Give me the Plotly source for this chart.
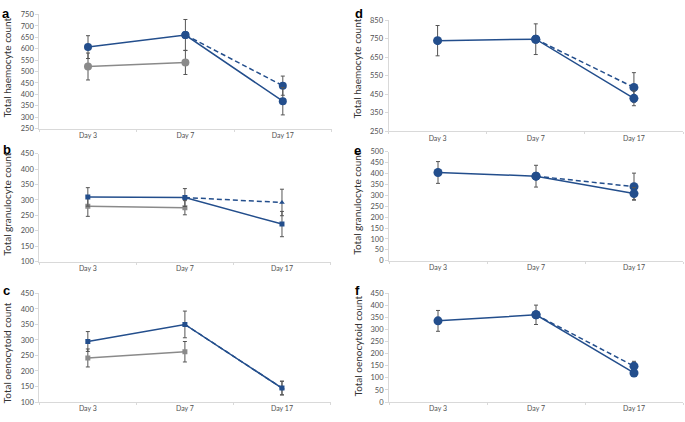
import plotly.graph_objects as go

W, H = 685, 422
days = ["Day 3", "Day 7", "Day 17"]
days_ctrl = ["Day 3", "Day 7"]
days_dash = ["Day 7", "Day 17"]

# Panel a - total haemocyte count
a_blue = [607, 660, 370]
a_blue_err = [50, 68, 60]
a_dash = [660, 438]
a_dash_err = [0, 42]
a_grey = [522, 540]
a_grey_err = [59, 53]

# Panel b - total granulocyte count
b_blue = [310, 308, 222]
b_blue_err = [30, 29, 41]
b_dash = [308, 292]
b_dash_err = [0, 43]
b_grey = [280, 275]
b_grey_err = [33, 23]

# Panel c - total oenocytoid count
c_blue = [295, 350, 145]
c_blue_err = [32, 43, 22]
c_dash = [350, 145]
c_dash_err = [0, 22]
c_grey = [242, 262]
c_grey_err = [29, 33]

# Panel d - total haemocyte count
d_blue = [740, 748, 428]
d_blue_err = [82, 83, 40]
d_dash = [748, 487]
d_dash_err = [0, 80]

# Panel e - total granulocyte count
e_blue = [405, 388, 308]
e_blue_err = [50, 50, 28]
e_dash = [388, 340]
e_dash_err = [0, 62]

# Panel f - total oenocytoid count
f_blue = [335, 360, 120]
f_blue_err = [43, 40, 12]
f_dash = [360, 148]
f_dash_err = [0, 20]

BLUE = "#234E8C"
GREY = "#8A8A8A"
ERR = "#555555"
AXC = "#D9D9D9"
TXT = "#505050"

def px_x(p):
    return p / W

def px_y(p):
    return 1 - p / H

panels = [
    dict(letter="a", title="Total haemocyte count", blue=a_blue, be=a_blue_err, dash=a_dash, de=a_dash_err,
         grey=a_grey, ge=a_grey_err, sym="circle", msize=8, dsym="circle", yr=[250, 750], t0=250, dt=50,
         xd=(39.3, 331.5), yd=(10.7, 127.3), tp=(7, 65), lp=(6, 10)),
    dict(letter="b", title="Total granulocyte count", blue=b_blue, be=b_blue_err, dash=b_dash, de=b_dash_err,
         grey=b_grey, ge=b_grey_err, sym="square", msize=5, dsym="triangle-up", yr=[100, 450], t0=100, dt=50,
         xd=(39.3, 330.5), yd=(153, 263.3), tp=(7, 205), lp=(7, 149)),
    dict(letter="c", title="Total oenocytoid count", blue=c_blue, be=c_blue_err, dash=c_dash, de=c_dash_err,
         grey=c_grey, ge=c_grey_err, sym="square", msize=5, dsym="triangle-up", yr=[100, 450], t0=100, dt=50,
         xd=(39.3, 330.5), yd=(295.7, 406.7), tp=(7, 357), lp=(6, 293)),
    dict(letter="d", title="Total haemocyte count", blue=d_blue, be=d_blue_err, dash=d_dash, de=d_dash_err,
         grey=None, ge=None, sym="circle", msize=9, dsym="circle", yr=[250, 850], t0=250, dt=100,
         xd=(388.5, 683), yd=(16.7, 130), tp=(357, 66), lp=(359, 10)),
    dict(letter="e", title="Total granulocyte count", blue=e_blue, be=e_blue_err, dash=e_dash, de=e_dash_err,
         grey=None, ge=None, sym="circle", msize=9, dsym="circle", yr=[0, 500], t0=0, dt=50,
         xd=(389, 683), yd=(151, 262.3), tp=(357, 204), lp=(357, 150)),
    dict(letter="f", title="Total oenocytoid count", blue=f_blue, be=f_blue_err, dash=f_dash, de=f_dash_err,
         grey=None, ge=None, sym="circle", msize=9, dsym="circle", yr=[0, 450], t0=0, dt=50,
         xd=(389, 683), yd=(295.3, 406.7), tp=(358, 350), lp=(357, 293)),
]

fig = go.Figure()
annotations = []
layout = {}

for i, p in enumerate(panels, start=1):
    sx = "" if i == 1 else str(i)
    xa, ya = "x" + sx, "y" + sx
    err_style = dict(type="data", color=ERR, thickness=1, width=2, visible=True)
    fig.add_trace(go.Scatter(
        x=days_dash, y=p["dash"], xaxis=xa, yaxis=ya, mode="lines+markers",
        line=dict(color=BLUE, width=1.5, dash="5px,3px"),
        marker=dict(symbol=p["dsym"], size=p["msize"], color=BLUE),
        error_y=dict(array=p["de"], **err_style), showlegend=False))
    if p["grey"] is not None:
        fig.add_trace(go.Scatter(
            x=days_ctrl, y=p["grey"], xaxis=xa, yaxis=ya, mode="lines+markers",
            line=dict(color=GREY, width=1.5),
            marker=dict(symbol=p["sym"], size=p["msize"], color=GREY),
            error_y=dict(array=p["ge"], **err_style), showlegend=False))
    fig.add_trace(go.Scatter(
        x=days, y=p["blue"], xaxis=xa, yaxis=ya, mode="lines+markers",
        line=dict(color=BLUE, width=1.5),
        marker=dict(symbol=p["sym"], size=p["msize"], color=BLUE),
        error_y=dict(array=p["be"], **err_style), showlegend=False))

    layout["xaxis" + sx] = dict(
        domain=[px_x(p["xd"][0]), px_x(p["xd"][1])], anchor=ya,
        type="category", categoryorder="array", categoryarray=days, range=[-0.5, 2.5],
        showline=True, linecolor=AXC, linewidth=1, ticks="outside", tickson="boundaries",
        ticklen=2, tickcolor=AXC, showgrid=False, zeroline=False,
        tickfont=dict(family="Lato", size=7, color=TXT), fixedrange=True)
    layout["yaxis" + sx] = dict(
        domain=[px_y(p["yd"][1]), px_y(p["yd"][0])], anchor=xa,
        range=p["yr"], tick0=p["t0"], dtick=p["dt"], tickmode="linear",
        showline=True, linecolor=AXC, linewidth=1, ticks="outside", ticklen=3, tickcolor=AXC,
        showgrid=False, zeroline=False,
        tickfont=dict(family="Lato", size=7.5, color=TXT), fixedrange=True)
    annotations.append(dict(
        text=p["title"], x=px_x(p["tp"][0]), y=px_y(p["tp"][1]), xref="paper", yref="paper",
        textangle=-90, showarrow=False, xanchor="center", yanchor="middle",
        font=dict(family="Lato", size=10, color="#333333")))
    annotations.append(dict(
        text="<b>" + p["letter"] + "</b>", x=px_x(p["lp"][0]), y=px_y(p["lp"][1]), xref="paper", yref="paper",
        showarrow=False, xanchor="center", yanchor="middle",
        font=dict(family="Liberation Sans", size=13, color="#000000")))

fig.update_layout(
    width=W, height=H, margin=dict(l=0, r=0, t=0, b=0),
    paper_bgcolor="white", plot_bgcolor="white", showlegend=False,
    hovermode=False, annotations=annotations, **layout)

# remove the browser's default 8px page margin so the figure fills the window
fig.write_html("out.html", config={"displayModeBar": False, "staticPlot": True},
               post_script="document.body.style.margin='0';")
